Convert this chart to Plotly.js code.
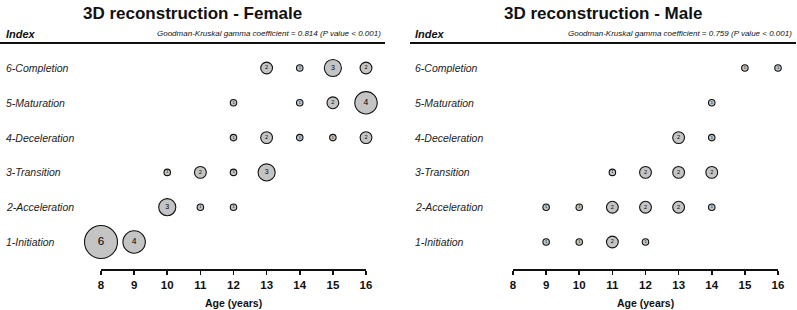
<!DOCTYPE html>
<html>
<head>
<meta charset="utf-8">
<script src="https://cdn.plot.ly/plotly-3.0.1.min.js"></script>
<style>html,body{margin:0;padding:0;background:#fff}#chart{width:797px;height:310px}</style>
</head>
<body>
<div id="chart"></div>
<script>
// ---- data ----
var stageLabels = ["1-Initiation","2-Acceleration","3-Transition","4-Deceleration","5-Maturation","6-Completion"];
var xTicks = [8,9,10,11,12,13,14,15,16];

var femaleAge   = [13,14,15,16, 12,14,15,16, 12,13,14,15,16, 10,11,12,13, 10,11,12, 8,9];
var femaleStage = [6,6,6,6,     5,5,5,5,     4,4,4,4,4,      3,3,3,3,     2,2,2,    1,1];
var femaleCount = [2,1,3,2,     1,1,2,4,     1,2,1,1,2,      1,2,1,3,     3,1,1,    6,4];

var maleAge   = [15,16, 14, 13,14, 11,12,13,14, 9,10,11,12,13,14, 9,10,11,12];
var maleStage = [6,6,   5,  4,4,   3,3,3,3,     2,2,2,2,2,2,      1,1,1,1];
var maleCount = [1,1,   1,  2,1,   1,2,2,2,     1,1,2,2,2,1,      1,1,2,1];

var titles = ["3D reconstruction - Female","3D reconstruction - Male"];
var gammaText = ["Goodman-Kruskal gamma coefficient = 0.814 (P value < 0.001)",
                 "Goodman-Kruskal gamma coefficient = 0.759 (P value < 0.001)"];
var xTitle = "Age (years)";
var indexLabel = "Index";

// ---- helpers ----
var W = 797, H = 310;
function px(x){ return x / W; }
function py(y){ return 1 - y / H; }
var FONT = "Liberation Sans, Arial, sans-serif";

function bubbleTrace(ages, stages, counts, xa, ya){
  return {
    type: "scatter", mode: "markers+text",
    x: ages, y: stages, xaxis: xa, yaxis: ya,
    text: counts.map(String),
    textposition: "middle center",
    textfont: {family: FONT, color: "#000", size: counts.map(function(c){ return 2.4 + 1.55*c; })},
    marker: {
      size: counts.map(function(c){ return 1.2 + 5.3*c; }),
      sizemode: "diameter",
      color: "#c4c4c4",
      line: {color: "#111", width: 1.1},
      opacity: 1
    },
    cliponaxis: false,
    hoverinfo: "skip",
    showlegend: false
  };
}

var data = [
  bubbleTrace(femaleAge, femaleStage, femaleCount, "x", "y"),
  bubbleTrace(maleAge, maleStage, maleCount, "x2", "y2")
];

function xAxis(domain){
  return {
    domain: domain, range: [8,16], anchor: "free", position: py(269),
    showline: true, linecolor: "#111", linewidth: 1.8,
    ticks: "outside", ticklen: 4, tickwidth: 1.6, tickcolor: "#111",
    tickvals: xTicks, ticktext: xTicks.map(String),
    tickfont: {family: FONT, size: 11.5, color: "#111", weight: "bold"},
    showgrid: false, zeroline: false, fixedrange: true
  };
}
function yAxis(){
  return {
    domain: [py(242), py(68)], range: [1,6],
    visible: false, showgrid: false, zeroline: false, fixedrange: true
  };
}

var annotations = [];
var shapes = [];
var panels = [
  {titleX: 192, left: 0, right: 385, labelX: 4, gammaRight: 383, xref: "x", yref: "y"},
  {titleX: 603, left: 410, right: 796, labelX: 413, gammaRight: 794, xref: "x2", yref: "y2"}
];
panels.forEach(function(p, i){
  annotations.push({xref: "paper", yref: "paper", x: px(p.titleX), y: py(13),
    xanchor: "center", yanchor: "middle", showarrow: false, text: titles[i],
    font: {family: FONT, size: 17, color: "#111", weight: "bold"}});
  annotations.push({xref: "paper", yref: "paper", x: px(p.labelX), y: py(34),
    xanchor: "left", yanchor: "middle", showarrow: false, text: "<b><i>" + indexLabel + "</i></b>",
    font: {family: FONT, size: 11, color: "#111"}});
  annotations.push({xref: "paper", yref: "paper", x: px(p.gammaRight), y: py(33),
    xanchor: "right", yanchor: "middle", showarrow: false, text: "<i>" + gammaText[i] + "</i>",
    font: {family: FONT, size: 8, color: "#111"}});
  stageLabels.forEach(function(lab, k){
    annotations.push({xref: "paper", yref: p.yref, x: px(p.labelX), y: k + 1,
      xanchor: "left", yanchor: "middle", showarrow: false, text: "<i>" + lab + "</i>",
      font: {family: FONT, size: 10.5, color: "#222"}});
  });
  annotations.push({xref: p.xref, yref: "paper", x: 12, y: py(303),
    xanchor: "center", yanchor: "middle", showarrow: false, text: "<b>" + xTitle + "</b>",
    font: {family: FONT, size: 10.5, color: "#111"}});
  shapes.push({type: "line", xref: "paper", yref: "paper",
    x0: px(p.left), x1: px(p.right), y0: py(43), y1: py(43),
    line: {color: "#111", width: 2}});
});

var layout = {
  width: W, height: H,
  margin: {l: 0, r: 0, t: 0, b: 0},
  paper_bgcolor: "#fff", plot_bgcolor: "rgba(0,0,0,0)",
  showlegend: false,
  xaxis: xAxis([px(101), px(366)]),
  xaxis2: xAxis([px(513), px(778)]),
  yaxis: yAxis(),
  yaxis2: yAxis(),
  annotations: annotations,
  shapes: shapes
};

Plotly.newPlot("chart", data, layout, {displayModeBar: false, staticPlot: true});
</script>
</body>
</html>
